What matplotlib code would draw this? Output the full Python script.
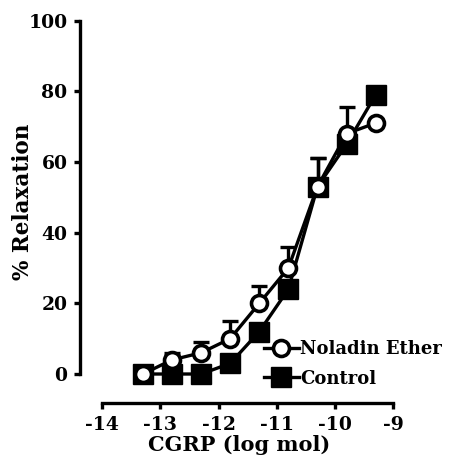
import matplotlib
matplotlib.use("Agg")
import matplotlib.pyplot as plt

# CGRP concentration-response data
log_dose = [-13.3, -12.8, -12.3, -11.8, -11.3, -10.8, -10.3, -9.8, -9.3]
noladin = [0, 4, 6, 10, 20, 30, 53, 68, 71]
noladin_err = [0, 2, 3, 5, 5, 6, 8, 7.5, 0]
control = [0, 0, 0, 3, 12, 24, 53, 65, 79]
control_err = [0, 0, 0, 0, 0, 0, 8, 0, 0]

x_ticks = [-14, -13, -12, -11, -10, -9]
y_ticks = [0, 20, 40, 60, 80, 100]

plt.rcParams["font.family"] = "DejaVu Serif"
plt.rcParams["font.weight"] = "bold"
plt.rcParams["axes.unicode_minus"] = False

fig = plt.figure(figsize=(4.54, 4.59), dpi=100)
ax = fig.add_axes([80 / 454, 56 / 459, 319 / 454, 386 / 459])

lw = 2.4
ax.errorbar(log_dose, control, yerr=[[0] * len(control_err), control_err],
            fmt="none", ecolor="black", elinewidth=lw, capsize=6, capthick=lw, zorder=2)
sq, = ax.plot(log_dose, control, color="black", lw=lw, marker="s", markersize=15,
              markerfacecolor="black", markeredgecolor="black", label="Control", zorder=3)
ax.errorbar(log_dose, noladin, yerr=[[0] * len(noladin_err), noladin_err],
            fmt="none", ecolor="black", elinewidth=lw, capsize=6, capthick=lw, zorder=4)
ci, = ax.plot(log_dose, noladin, color="black", lw=lw, marker="o", markersize=11.5,
              markerfacecolor="white", markeredgecolor="black", markeredgewidth=2.6,
              label="Noladin Ether", zorder=5)

ax.set_xlim(-14.38, -8.9)
ax.set_ylim(-8.2, 101)
ax.spines["top"].set_visible(False)
ax.spines["right"].set_visible(False)
ax.spines["left"].set_bounds(0, 100)
ax.spines["bottom"].set_bounds(-14, -9)
ax.spines["left"].set_linewidth(lw)
ax.spines["bottom"].set_linewidth(lw)
ax.set_xticks(x_ticks)
ax.set_yticks(y_ticks)
ax.tick_params(width=lw, length=4, labelsize=13.5, pad=5)
for lab in ax.get_xticklabels() + ax.get_yticklabels():
    lab.set_fontweight("bold")

ax.set_xlabel("CGRP (log mol)", fontsize=15, fontweight="bold", labelpad=1)
ax.set_ylabel("% Relaxation", fontsize=15.5, fontweight="bold")
ax.yaxis.set_label_coords(-0.145, 0.52)

ax.legend(handles=[ci, sq], loc="upper left", bbox_to_anchor=(0.555, 0.182),
          frameon=False, prop={"size": 13, "weight": "bold"}, handlelength=1.9,
          handletextpad=0.1, labelspacing=0.65, borderaxespad=0)

fig.savefig("out.png", dpi=100)
